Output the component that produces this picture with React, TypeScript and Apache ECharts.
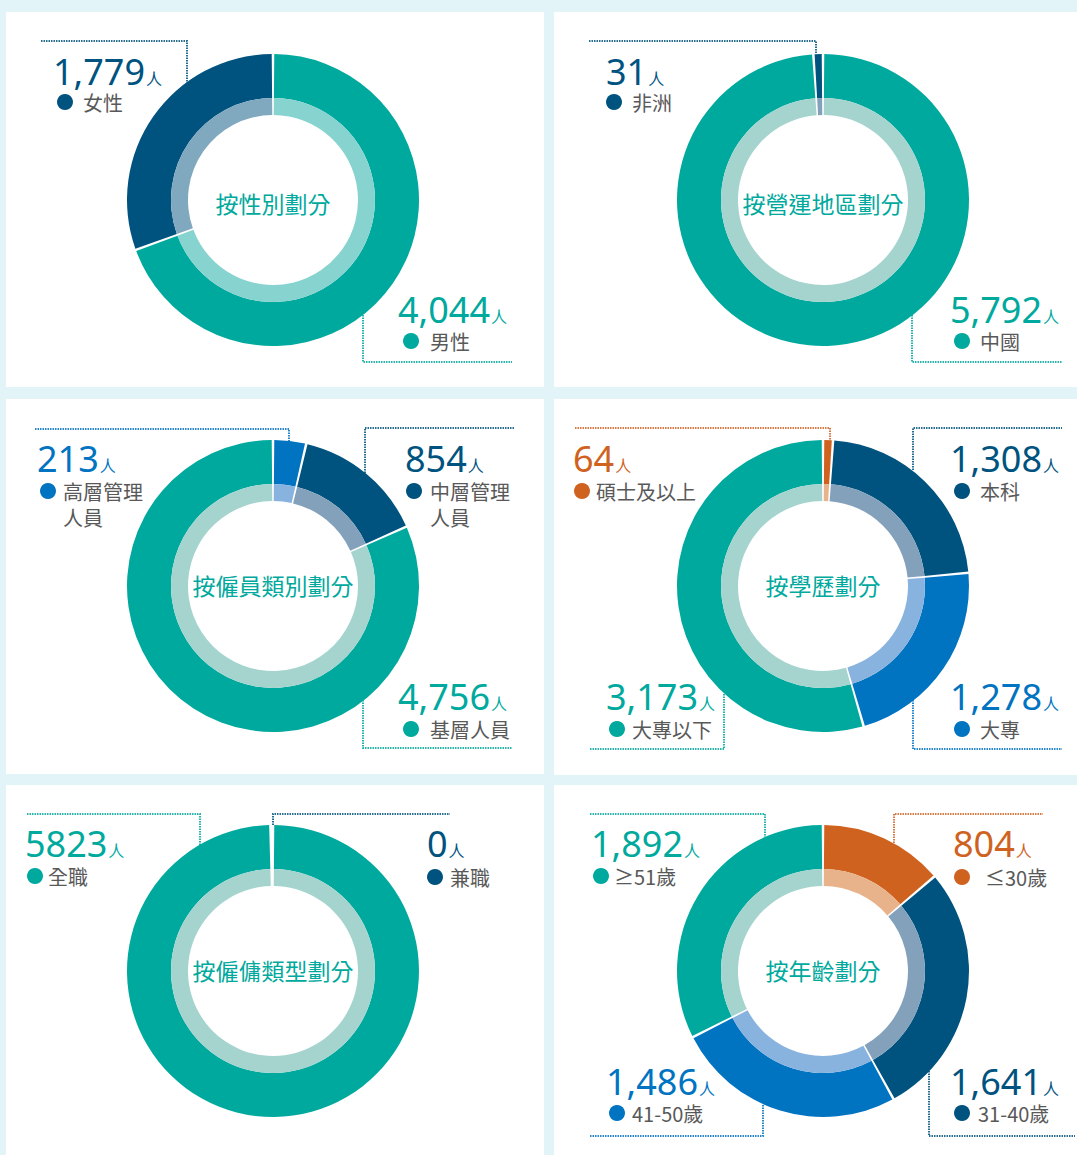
import React, { useEffect, useRef } from 'react';
import * as echarts from 'echarts';

// ---------- data ----------
const chartTitles = ['按性別劃分', '按營運地區劃分', '按僱員類別劃分', '按學歷劃分', '按僱傭類型劃分', '按年齡劃分'];

const genderCategories = ['男性', '女性'];
const genderValues = [4044, 1779];

const regionCategories = ['中國', '非洲'];
const regionValues = [5792, 31];

const staffCategories = ['高層管理\n人員', '中層管理\n人員', '基層人員'];
const staffValues = [213, 854, 4756];

const educationCategories = ['碩士及以上', '本科', '大專', '大專以下'];
const educationValues = [64, 1308, 1278, 3173];

const employmentCategories = ['全職', '兼職'];
const employmentValues = [5823, 0];

const ageCategories = ['≤30歲', '31-40歲', '41-50歲', '≥51歲'];
const ageValues = [804, 1641, 1486, 1892];

const unitLabel = '人';

// ---------- styles ----------
const TEAL = '#00a99d';
const DARK = '#00537f';
const BLUE = '#0073c1';
const ORANGE = '#d0621f';
const LIGHT: Record<string, string> = {
  [TEAL]: '#a5d4cf',
  [DARK]: '#84a1bc',
  [BLUE]: '#88b3df',
  [ORANGE]: '#e8b38a',
};
const LIGHT_P1: Record<string, string> = {
  [TEAL]: '#86d3d0',
  [DARK]: '#80a8be',
};
const BG = '#e3f4f8';
const GREY = '#595959';
const NUM_FONT = '"Noto Sans", "Noto Sans CJK TC", sans-serif';
const CJK_FONT = '"Noto Sans CJK TC", "Noto Sans", sans-serif';

type SliceLayout = { nx: number; nb: number; dx: number; dy: number; lx: number; line: number[][] };
type ChartLayout = {
  panel: number[]; center: number[]; titleDy: number; minAngle: number;
  colors: string[]; light: Record<string, string>; grouping: boolean; slices: SliceLayout[];
};

const layouts: ChartLayout[] = [
  {
    panel: [6, 12, 538, 375], center: [273, 200], titleDy: 3, minAngle: 0, colors: [TEAL, DARK], light: LIGHT_P1, grouping: true,
    slices: [
      { nx: 398, nb: 323, dx: 411, dy: 341, lx: 430, line: [[363, 315], [363, 362], [512, 362]] },
      { nx: 53, nb: 85, dx: 65, dy: 102, lx: 83, line: [[41, 41], [187, 41], [187, 83]] },
    ],
  },
  {
    panel: [554, 12, 523, 375], center: [823, 200], titleDy: 3, minAngle: 2.8, colors: [TEAL, DARK], light: LIGHT, grouping: true,
    slices: [
      { nx: 950, nb: 323, dx: 962, dy: 341, lx: 980, line: [[912, 315], [912, 362], [1062, 362]] },
      { nx: 606, nb: 85, dx: 614, dy: 102, lx: 632, line: [[589, 41], [816, 41], [816, 54]] },
    ],
  },
  {
    panel: [6, 399, 538, 375], center: [273, 586], titleDy: -1, minAngle: 0, colors: [BLUE, DARK, TEAL], light: LIGHT, grouping: true,
    slices: [
      { nx: 37, nb: 472, dx: 48, dy: 491, lx: 63, line: [[35, 429], [289, 429], [289, 441]] },
      { nx: 405, nb: 472, dx: 414, dy: 491, lx: 430, line: [[365, 473], [365, 428], [514, 428]] },
      { nx: 398, nb: 710, dx: 411, dy: 729, lx: 430, line: [[363, 700], [363, 748], [512, 748]] },
    ],
  },
  {
    panel: [554, 399, 523, 376], center: [823, 586], titleDy: -1, minAngle: 0, colors: [ORANGE, DARK, BLUE, TEAL], light: LIGHT, grouping: true,
    slices: [
      { nx: 573, nb: 472, dx: 582, dy: 491, lx: 596, line: [[575, 428], [830, 428], [830, 440]] },
      { nx: 950, nb: 472, dx: 962, dy: 491, lx: 980, line: [[913, 470], [913, 428], [1062, 428]] },
      { nx: 950, nb: 710, dx: 962, dy: 729, lx: 980, line: [[913, 700], [913, 749], [1062, 749]] },
      { nx: 606, nb: 710, dx: 617, dy: 729, lx: 632, line: [[590, 749], [724, 749], [724, 693]] },
    ],
  },
  {
    panel: [6, 785, 538, 370], center: [273, 971], titleDy: -1, minAngle: 0, colors: [TEAL, DARK], light: LIGHT, grouping: false,
    slices: [
      { nx: 25, nb: 857, dx: 35, dy: 876, lx: 48, line: [[27, 814], [200, 814], [200, 845]] },
      { nx: 427, nb: 857, dx: 435, dy: 877, lx: 450, line: [[273, 825], [273, 814], [450, 814]] },
    ],
  },
  {
    panel: [554, 785, 523, 370], center: [823, 971], titleDy: -1, minAngle: 0, colors: [ORANGE, DARK, BLUE, TEAL], light: LIGHT, grouping: true,
    slices: [
      { nx: 953, nb: 857, dx: 962, dy: 877, lx: 985, line: [[894, 843], [894, 814], [1043, 814]] },
      { nx: 950, nb: 1095, dx: 962, dy: 1113, lx: 978, line: [[929, 1071], [929, 1136], [1075, 1136]] },
      { nx: 606, nb: 1095, dx: 617, dy: 1113, lx: 632, line: [[590, 1136], [763, 1136], [763, 1104]] },
      { nx: 591, nb: 857, dx: 601, dy: 876, lx: 614, line: [[590, 814], [765, 814], [765, 837]] },
    ],
  },
];

const datasets = [
  { cats: genderCategories, vals: genderValues },
  { cats: regionCategories, vals: regionValues },
  { cats: staffCategories, vals: staffValues },
  { cats: educationCategories, vals: educationValues },
  { cats: employmentCategories, vals: employmentValues },
  { cats: ageCategories, vals: ageValues },
];

const NUM_SIZE = 36;
const UNIT_SIZE = 16;
const LABEL_SIZE = 20;
const CENTRAL = 0.388;

function measure(text: string, font: string): number {
  const c = document.createElement('canvas');
  const ctx = c.getContext('2d');
  if (!ctx) return text.length * 20;
  ctx.font = font;
  return ctx.measureText(text).width;
}

export default function App() {
  const ref = useRef<HTMLDivElement>(null);
  useEffect(() => {
    document.body.style.margin = '0';
    if (!ref.current) return;
    const chart = echarts.init(ref.current, null, { renderer: 'svg' });

    const series: any[] = [];
    const graphics: any[] = [];

    layouts.forEach((lay) => {
      graphics.push({
        type: 'rect', z: 0,
        shape: { x: lay.panel[0], y: lay.panel[1], width: lay.panel[2], height: lay.panel[3] },
        style: { fill: '#ffffff' },
      });
    });

    datasets.forEach((ds, i) => {
      const lay = layouts[i];
      const common = {
        type: 'pie', center: lay.center, startAngle: 90, clockwise: true, padAngle: 1,
        minAngle: lay.minAngle,
        silent: true, label: { show: false }, labelLine: { show: false }, emphasis: { disabled: true },
        z: 2,
      };
      series.push({
        ...common, radius: [102, 146],
        data: ds.vals.map((v, j) => ({ name: ds.cats[j], value: v, itemStyle: { color: lay.colors[j] } })),
      });
      series.push({
        ...common, radius: [85, 102],
        data: ds.vals.map((v, j) => ({ name: ds.cats[j], value: v, itemStyle: { color: lay.light[lay.colors[j]] } })),
      });

      graphics.push({
        type: 'text', z: 5, x: lay.center[0], y: lay.center[1] + lay.titleDy,
        style: {
          text: chartTitles[i], fill: TEAL, font: `23px ${CJK_FONT}`, lineHeight: 26,
          textAlign: 'center', textVerticalAlign: 'middle',
        },
      });

      ds.vals.forEach((v, j) => {
        const s = lay.slices[j];
        const color = lay.colors[j];
        const numText = lay.grouping ? v.toLocaleString('en-US') : String(v);
        const w = measure(numText, `${NUM_SIZE}px "Noto Sans"`);
        graphics.push({
          type: 'polyline', z: 4,
          shape: { points: s.line },
          style: { stroke: color, lineWidth: 2, lineDash: [1.5, 1], fill: null, opacity: 0.85 },
        });
        graphics.push({
          type: 'text', z: 5, x: s.nx, y: s.nb - CENTRAL * NUM_SIZE,
          style: {
            text: numText, fill: color, font: `${NUM_SIZE}px ${NUM_FONT}`, lineHeight: 28,
            textAlign: 'left', textVerticalAlign: 'middle',
          },
        });
        graphics.push({
          type: 'text', z: 5, x: s.nx + w + 1, y: s.nb - CENTRAL * UNIT_SIZE,
          style: {
            text: unitLabel, fill: color, font: `${UNIT_SIZE}px ${NUM_FONT}`, lineHeight: 16,
            textAlign: 'left', textVerticalAlign: 'middle',
          },
        });
        graphics.push({
          type: 'circle', z: 5, shape: { cx: s.dx, cy: s.dy, r: 8 }, style: { fill: color },
        });
        ds.cats[j].split('\n').forEach((line, k) => {
          graphics.push({
            type: 'text', z: 5, x: s.lx, y: s.dy + k * 26,
            style: {
              text: line, fill: GREY, font: `${LABEL_SIZE}px ${CJK_FONT}`, lineHeight: 22,
              textAlign: 'left', textVerticalAlign: 'middle',
            },
          });
        });
      });
    });

    chart.setOption({
      animation: false,
      backgroundColor: BG,
      series,
      graphic: { elements: graphics },
    });
    return () => chart.dispose();
  }, []);
  return <div ref={ref} style={{ width: 1077, height: 1155 }} />;
}
